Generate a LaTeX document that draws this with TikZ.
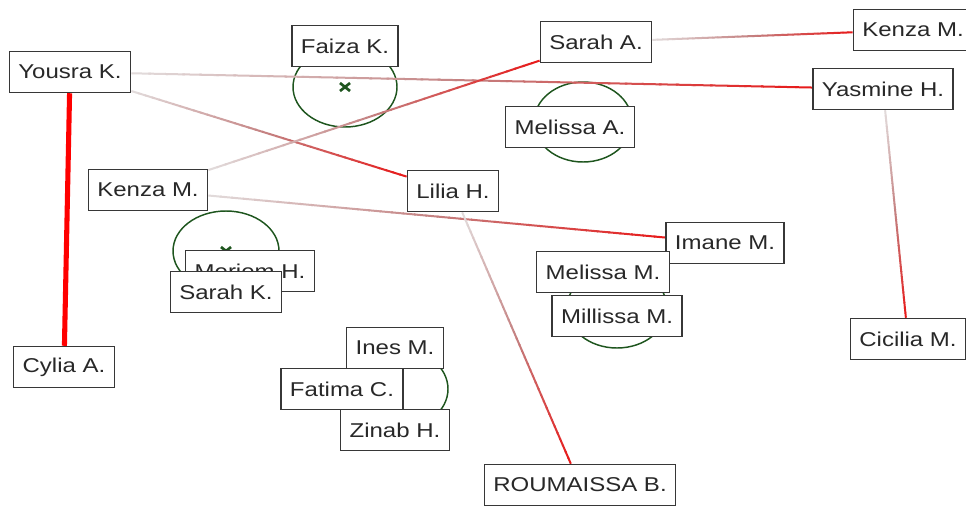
\documentclass[tikz,border=0pt]{standalone}
\usepackage{fontspec}
\setmainfont[FakeStretch=1.2]{Liberation Sans}
\usetikzlibrary{calc}

\definecolor{edgeA}{RGB}{226,220,220}
\definecolor{edgeB}{RGB}{196,128,128}
\definecolor{edgeC}{RGB}{232,24,24}
\definecolor{clusterline}{RGB}{30,85,30}
\definecolor{boxline}{RGB}{55,55,55}
\definecolor{boxtext}{RGB}{40,40,40}

\tikzset{
  person/.style={draw=boxline, line width=1.1pt, fill=white, text=boxtext,
    font=\fontsize{15pt}{18pt}\selectfont, inner xsep=6.75pt, inner ysep=0pt,
    minimum height=30.75pt, anchor=center},
  cluster/.style={draw=clusterline, line width=1.1pt},
  strong tie/.style={draw=red, line width=3.8pt},
}

% Connector whose colour runs from pale grey at the source to red at the target
\newcommand\gradtie[3][1.5pt]{%
  \foreach \k in {0,...,39}{%
    \pgfmathsetmacro\ps{\k/40}%
    \pgfmathsetmacro\pe{min(1,(\k+1.15)/40)}%
    \pgfmathsetmacro\tm{(\k+0.5)/40}%
    \ifdim\tm pt<0.5pt
      \pgfmathsetmacro\mixv{200*\tm}%
      \colorlet{segcol}{edgeB!\mixv!edgeA}%
    \else
      \pgfmathsetmacro\mixv{200*(\tm-0.5)}%
      \colorlet{segcol}{edgeC!\mixv!edgeB}%
    \fi
    \path (#2) -- (#3) coordinate[pos=\ps] (g0) coordinate[pos=\pe] (g1);
    \draw[line width=#1, segcol] (g0) -- (g1);
  }%
}

% Small cross marking a cluster centre
\newcommand\centremark[1]{%
  \draw[clusterline, line width=2pt] ($(#1)+(-5,-4)$) -- ($(#1)+(5,4)$)
    ($(#1)+(-5,4)$) -- ($(#1)+(5,-4)$);
}

\begin{document}
\begin{tikzpicture}[x=0.75pt,y=-0.75pt]
\useasboundingbox (0,0) rectangle (966,507);
\fill[white] (0,0) rectangle (966,507);

% cluster outlines and centres
\coordinate (cF) at (345,87);
\coordinate (cMA) at (583,122);
\coordinate (cMH) at (226,251);
\coordinate (cMM) at (617,308);
\coordinate (cIM) at (398,389);
\draw[cluster] (cF) ellipse [x radius=52, y radius=40];
\draw[cluster] (cMA) ellipse [x radius=49, y radius=40];
\draw[cluster] (cMH) ellipse [x radius=53, y radius=40];
\draw[cluster] (cMM) ellipse [x radius=50, y radius=40];
\draw[cluster] (cIM) ellipse [x radius=50, y radius=40];
\centremark{cF}
\centremark{cMA}
\centremark{cMH}
\centremark{cMM}
\centremark{cIM}

% people (positions only; boxes drawn last)
\path
  (70,72)   coordinate (pYousra)
  (345,46)  coordinate (pFaiza)
  (596,42)  coordinate (pSarahA)
  (913,30)  coordinate (pKenzaR)
  (883,89)  coordinate (pYasmine)
  (570,127) coordinate (pMelissaA)
  (148,190) coordinate (pKenzaL)
  (453,191) coordinate (pLilia)
  (725,243) coordinate (pImane)
  (250,271) coordinate (pMeriem)
  (226,292) coordinate (pSarahK)
  (603,272) coordinate (pMelissaM)
  (617,316) coordinate (pMillissa)
  (395,348) coordinate (pInes)
  (342,389) coordinate (pFatima)
  (395,430) coordinate (pZinab)
  (64,367)  coordinate (pCylia)
  (580,485) coordinate (pRoumaissa)
  (908,339) coordinate (pCicilia);

% invisible placeholders with the final box sizes, so connectors stop at borders
\begin{scope}[every node/.style={person, draw=none, fill=none, text opacity=0}]
  \node (yousra)    at (pYousra)    {Yousra K.};
  \node (sarahA)    at (pSarahA)    {Sarah A.};
  \node (kenzaR)    at (pKenzaR)    {Kenza M.};
  \node (yasmine)   at (pYasmine)   {Yasmine H.};
  \node (kenzaL)    at (pKenzaL)    {Kenza M.};
  \node (lilia)     at (pLilia)     {Lilia H.};
  \node (imane)     at (pImane)     {Imane M.};
  \node (cylia)     at (pCylia)     {Cylia A.};
  \node (roumaissa) at (pRoumaissa) {ROUMAISSA B.};
  \node (cicilia)   at (pCicilia)   {Cicilia M.};
\end{scope}

% ties
\draw[strong tie] (yousra) -- (cylia);
\gradtie{yousra}{yasmine}
\gradtie{yousra}{lilia}
\gradtie{kenzaL}{sarahA}
\gradtie{kenzaL}{imane}
\gradtie{sarahA}{kenzaR}
\gradtie{yasmine}{cicilia}
\gradtie{lilia}{roumaissa}

% boxes
\node[person] (bFaiza)    at (pFaiza)    {Faiza K.};
\node[person] (bYousra)   at (pYousra)   {Yousra K.};
\node[person] (bSarahA)   at (pSarahA)   {Sarah A.};
\node[person] (bKenzaR)   at (pKenzaR)   {Kenza M.};
\node[person] (bYasmine)  at (pYasmine)  {Yasmine H.};
\node[person] (bMelissaA) at (pMelissaA) {Melissa A.};
\node[person] (bKenzaL)   at (pKenzaL)   {Kenza M.};
\node[person] (bLilia)    at (pLilia)    {Lilia H.};
\node[person] (bImane)    at (pImane)    {Imane M.};
\node[person] (bMeriem)   at (pMeriem)   {Meriem H.};
\node[person] (bSarahK)   at (pSarahK)   {Sarah K.};
\node[person] (bMelissaM) at (pMelissaM) {Melissa M.};
\node[person] (bMillissa) at (pMillissa) {Millissa M.};
\node[person] (bInes)     at (pInes)     {Ines M.};
\node[person] (bFatima)   at (pFatima)   {Fatima C.};
\node[person] (bZinab)    at (pZinab)    {Zinab H.};
\node[person] (bCylia)    at (pCylia)    {Cylia A.};
\node[person] (bRoumaissa) at (pRoumaissa) {ROUMAISSA B.};
\node[person] (bCicilia)  at (pCicilia)  {Cicilia M.};
\end{tikzpicture}
\end{document}
